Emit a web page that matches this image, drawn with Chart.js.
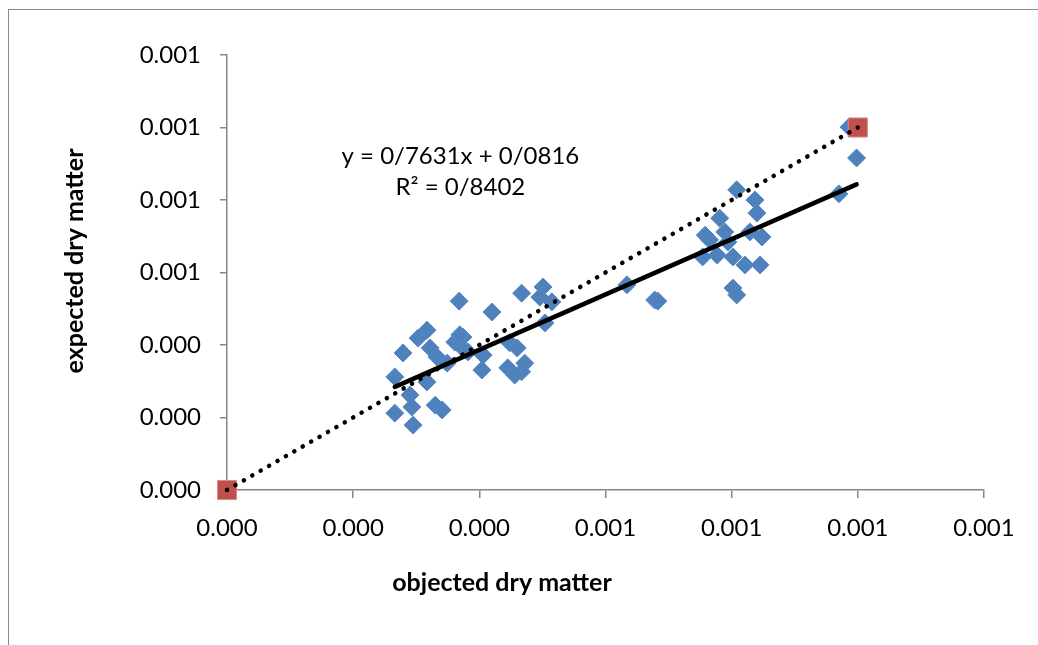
<!DOCTYPE html>
<html>
<head>
<meta charset="utf-8">
<script src="https://cdn.jsdelivr.net/npm/chart.js@4.4.1/dist/chart.umd.min.js"></script>
<style>
  html, body { margin: 0; background: #fff; overflow: hidden; }
  #frame { position: absolute; left: 8px; top: 9px; width: 1100px; height: 700px;
           border-left: 1.5px solid #8c8c8c; border-top: 1.5px solid #8c8c8c; }
  #wrap { position: absolute; left: 0; top: 0; width: 1038px; height: 645px; }
</style>
</head>
<body>
<div id="frame"></div>
<div id="wrap"><canvas id="chart" width="1038" height="645"></canvas></div>
<script>
// observed (x) vs predicted (y) dry matter
const objected = [
  0.000317, 0.000303, 0.000322, 0.000279, 0.000333, 0.000361, 0.000374, 0.000372, 0.000382, 0.000349,
  0.000266, 0.000317, 0.000404, 0.000290, 0.000266, 0.000293, 0.000330, 0.000341, 0.000295, 0.000368,
  0.000420, 0.000467, 0.000501, 0.000496, 0.000515, 0.000504, 0.000369, 0.000406, 0.000448, 0.000460,
  0.000445, 0.000472, 0.000467, 0.000456, 0.000634, 0.000678, 0.000683, 0.000808, 0.000837, 0.000840,
  0.000781, 0.000758, 0.000765, 0.000789, 0.000794, 0.000829, 0.000848, 0.000777, 0.000802, 0.000821,
  0.000845, 0.000802, 0.000808, 0.000754, 0.000970, 0.000986, 0.000998
];
const expected = [
  0.000441, 0.000419, 0.000392, 0.000378, 0.000367, 0.000408, 0.000422, 0.000394, 0.000381, 0.000350,
  0.000312, 0.000298, 0.000331, 0.000262, 0.000212, 0.000229, 0.000234, 0.000221, 0.000179, 0.000521,
  0.000491, 0.000543, 0.000560, 0.000532, 0.000519, 0.000461, 0.000428, 0.000372, 0.000406, 0.000392,
  0.000337, 0.000350, 0.000326, 0.000317, 0.000566, 0.000524, 0.000521, 0.000828, 0.000800, 0.000764,
  0.000750, 0.000703, 0.000690, 0.000712, 0.000684, 0.000712, 0.000698, 0.000648, 0.000643, 0.000621,
  0.000621, 0.000557, 0.000538, 0.000643, 0.000817, 0.001001, 0.000916
];

// 1:1 reference series
const refX = [0, 0.001];
const refY = [0, 0.001];

// fitted trend line (as printed on the chart)
const slope = 0.7631;
const intercept = 0.0000816;
const eqLines = ['y = 0/7631x + 0/0816', 'R\u00B2 = 0/8402'];

const xTitle = 'objected dry matter';
const yTitle = 'expected dry matter';

const tickStep = 0.0002;
const axisMax = 0.0012;

const FONT = 'Lato, "Open Sans", sans-serif';
const grey = '#868686';

const points = objected.map((x, i) => ({ x: x, y: expected[i] }));
const refPoints = refX.map((x, i) => ({ x: x, y: refY[i] }));
const xMin = Math.min(...objected), xMax = Math.max(...objected);
const trendPoints = [xMin, xMax].map(x => ({ x: x, y: slope * x + intercept }));

// equation label and axis titles (Excel places them off-centre)
const textPlugin = {
  id: 'texts',
  afterDraw(chart) {
    const c = chart.ctx;
    const xs = chart.scales.x, ys = chart.scales.y;
    const a = chart.chartArea;
    c.save();
    c.fillStyle = '#000';
    c.textAlign = 'center';
    c.textBaseline = 'middle';
    c.font = '24px ' + FONT;
    c.fillText(eqLines[0], xs.getPixelForValue(0.00037), ys.getPixelForValue(0.00092));
    c.fillText(eqLines[1], xs.getPixelForValue(0.00037), ys.getPixelForValue(0.000836));
    c.font = 'bold 25px ' + FONT;
    c.fillText(xTitle, a.left + 275, a.bottom + 93);
    c.translate(a.left - 152, a.top + 206);
    c.rotate(-Math.PI / 2);
    c.fillText(yTitle, 0, 0);
    c.restore();
  }
};

new Chart(document.getElementById('chart'), {
  type: 'scatter',
  data: {
    datasets: [
      {
        data: trendPoints,
        showLine: true,
        borderColor: '#000',
        borderWidth: 4.5,
        borderCapStyle: 'round',
        pointRadius: 0,
        order: 0
      },
      {
        data: refPoints,
        showLine: true,
        borderColor: '#000',
        borderWidth: 4.5,
        borderCapStyle: 'round',
        borderDash: [0.1, 9.6],
        pointRadius: 0,
        clip: false,
        order: 1
      },
      {
        data: refPoints,
        pointStyle: 'rect',
        pointRadius: 13.5,
        backgroundColor: '#C0504D',
        borderColor: '#d88a88',
        borderWidth: 1,
        clip: false,
        order: 2
      },
      {
        data: points,
        pointStyle: 'rectRot',
        pointRadius: 9,
        backgroundColor: '#4F81BD',
        borderColor: '#5a8ac4',
        borderWidth: 1,
        clip: false,
        order: 3
      }
    ]
  },
  options: {
    responsive: false,
    animation: false,
    layout: { padding: { left: 64, top: 55, right: 54, bottom: 51 } },
    plugins: { legend: { display: false }, tooltip: { enabled: false } },
    scales: {
      x: {
        type: 'linear',
        min: 0,
        max: axisMax,
        afterFit: s => { s.height = 104; },
        ticks: {
          stepSize: tickStep,
          callback: v => v.toFixed(3),
          font: { family: FONT, size: 24 },
          color: '#000',
          padding: 16,
          maxRotation: 0,
          autoSkip: false
        },
        grid: { drawOnChartArea: false, tickLength: 8, color: grey, lineWidth: 1.5 },
        border: { color: grey, width: 1.5 }
      },
      y: {
        type: 'linear',
        min: 0,
        max: axisMax,
        afterFit: s => { s.width = 163; },
        ticks: {
          stepSize: tickStep,
          callback: v => v.toFixed(3),
          font: { family: FONT, size: 24 },
          color: '#000',
          padding: 19
        },
        grid: { drawOnChartArea: false, tickLength: 7, color: grey, lineWidth: 1.5 },
        border: { color: grey, width: 1.5 }
      }
    }
  },
  plugins: [textPlugin]
});
</script>
</body>
</html>
